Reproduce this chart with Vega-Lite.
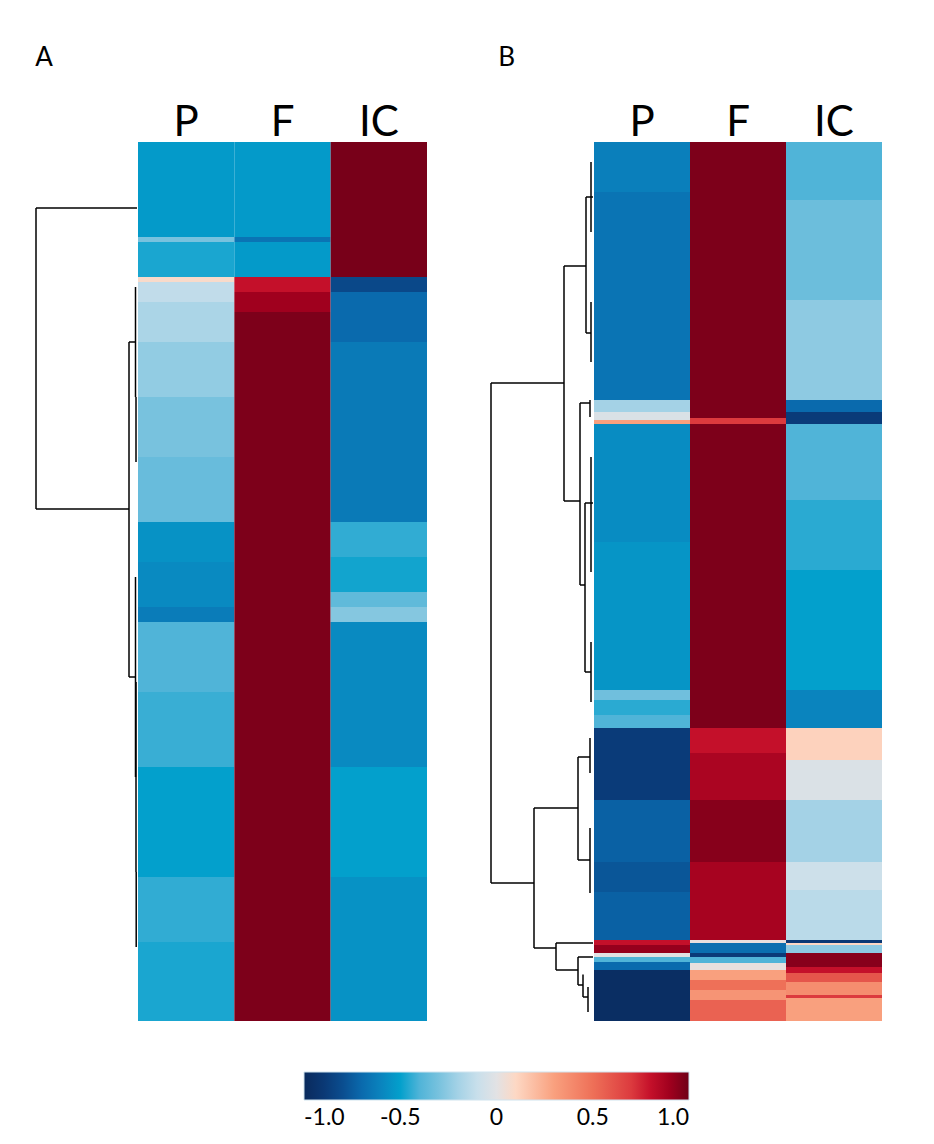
{
  "$schema": "https://vega.github.io/schema/vega-lite/v6.json",
  "background": "white",
  "padding": {"left": 35, "top": 45, "right": 10, "bottom": 10},
  "datasets": {
    "heat": [
      {"p": "A", "c": "P", "y0": 0, "y1": 19, "v": -0.52},
      {"p": "A", "c": "P", "y0": 19, "y1": 20, "v": -0.3},
      {"p": "A", "c": "P", "y0": 20, "y1": 27, "v": -0.47},
      {"p": "A", "c": "P", "y0": 27, "y1": 28, "v": 0.08},
      {"p": "A", "c": "P", "y0": 28, "y1": 32, "v": -0.12},
      {"p": "A", "c": "P", "y0": 32, "y1": 40, "v": -0.18},
      {"p": "A", "c": "P", "y0": 40, "y1": 51, "v": -0.24},
      {"p": "A", "c": "P", "y0": 51, "y1": 63, "v": -0.3},
      {"p": "A", "c": "P", "y0": 63, "y1": 76, "v": -0.34},
      {"p": "A", "c": "P", "y0": 76, "y1": 84, "v": -0.55},
      {"p": "A", "c": "P", "y0": 84, "y1": 93, "v": -0.58},
      {"p": "A", "c": "P", "y0": 93, "y1": 96, "v": -0.63},
      {"p": "A", "c": "P", "y0": 96, "y1": 110, "v": -0.4},
      {"p": "A", "c": "P", "y0": 110, "y1": 125, "v": -0.43},
      {"p": "A", "c": "P", "y0": 125, "y1": 147, "v": -0.5},
      {"p": "A", "c": "P", "y0": 147, "y1": 160, "v": -0.44},
      {"p": "A", "c": "P", "y0": 160, "y1": 175.8, "v": -0.47},
      {"p": "A", "c": "F", "y0": 0, "y1": 19, "v": -0.52},
      {"p": "A", "c": "F", "y0": 19, "y1": 20, "v": -0.66},
      {"p": "A", "c": "F", "y0": 20, "y1": 27, "v": -0.52},
      {"p": "A", "c": "F", "y0": 27, "y1": 30, "v": 0.8},
      {"p": "A", "c": "F", "y0": 30, "y1": 34, "v": 0.9},
      {"p": "A", "c": "F", "y0": 34, "y1": 175.8, "v": 0.97},
      {"p": "A", "c": "IC", "y0": 0, "y1": 27, "v": 0.98},
      {"p": "A", "c": "IC", "y0": 27, "y1": 30, "v": -0.82},
      {"p": "A", "c": "IC", "y0": 30, "y1": 40, "v": -0.7},
      {"p": "A", "c": "IC", "y0": 40, "y1": 76, "v": -0.64},
      {"p": "A", "c": "IC", "y0": 76, "y1": 83, "v": -0.44},
      {"p": "A", "c": "IC", "y0": 83, "y1": 90, "v": -0.48},
      {"p": "A", "c": "IC", "y0": 90, "y1": 93, "v": -0.36},
      {"p": "A", "c": "IC", "y0": 93, "y1": 96, "v": -0.27},
      {"p": "A", "c": "IC", "y0": 96, "y1": 125, "v": -0.58},
      {"p": "A", "c": "IC", "y0": 125, "y1": 147, "v": -0.5},
      {"p": "A", "c": "IC", "y0": 147, "y1": 175.8, "v": -0.55},
      {"p": "B", "c": "P", "y0": 0, "y1": 10, "v": -0.62},
      {"p": "B", "c": "P", "y0": 10, "y1": 51.6, "v": -0.66},
      {"p": "B", "c": "P", "y0": 51.6, "y1": 54, "v": -0.2},
      {"p": "B", "c": "P", "y0": 54, "y1": 55.6, "v": -0.03},
      {"p": "B", "c": "P", "y0": 55.6, "y1": 56.4, "v": 0.3},
      {"p": "B", "c": "P", "y0": 56.4, "y1": 80, "v": -0.57},
      {"p": "B", "c": "P", "y0": 80, "y1": 109.6, "v": -0.54},
      {"p": "B", "c": "P", "y0": 109.6, "y1": 111.6, "v": -0.32},
      {"p": "B", "c": "P", "y0": 111.6, "y1": 114.6, "v": -0.45},
      {"p": "B", "c": "P", "y0": 114.6, "y1": 117.2, "v": -0.4},
      {"p": "B", "c": "P", "y0": 117.2, "y1": 131.6, "v": -0.88},
      {"p": "B", "c": "P", "y0": 131.6, "y1": 144, "v": -0.73},
      {"p": "B", "c": "P", "y0": 144, "y1": 150, "v": -0.77},
      {"p": "B", "c": "P", "y0": 150, "y1": 159.6, "v": -0.73},
      {"p": "B", "c": "P", "y0": 159.6, "y1": 160.6, "v": 0.8},
      {"p": "B", "c": "P", "y0": 160.6, "y1": 162.2, "v": 0.92},
      {"p": "B", "c": "P", "y0": 162.2, "y1": 163, "v": 0.0},
      {"p": "B", "c": "P", "y0": 163, "y1": 164, "v": -0.4},
      {"p": "B", "c": "P", "y0": 164, "y1": 165.6, "v": -0.7},
      {"p": "B", "c": "P", "y0": 165.6, "y1": 175.8, "v": -0.97},
      {"p": "B", "c": "F", "y0": 0, "y1": 55.2, "v": 0.97},
      {"p": "B", "c": "F", "y0": 55.2, "y1": 56.4, "v": 0.7},
      {"p": "B", "c": "F", "y0": 56.4, "y1": 117.2, "v": 0.97},
      {"p": "B", "c": "F", "y0": 117.2, "y1": 122.2, "v": 0.8},
      {"p": "B", "c": "F", "y0": 122.2, "y1": 131.6, "v": 0.87},
      {"p": "B", "c": "F", "y0": 131.6, "y1": 144, "v": 0.95},
      {"p": "B", "c": "F", "y0": 144, "y1": 159.6, "v": 0.88},
      {"p": "B", "c": "F", "y0": 159.6, "y1": 160.2, "v": 0.02},
      {"p": "B", "c": "F", "y0": 160.2, "y1": 162.2, "v": -0.68},
      {"p": "B", "c": "F", "y0": 162.2, "y1": 163, "v": -0.88},
      {"p": "B", "c": "F", "y0": 163, "y1": 164.2, "v": -0.4},
      {"p": "B", "c": "F", "y0": 164.2, "y1": 165.6, "v": 0.02},
      {"p": "B", "c": "F", "y0": 165.6, "y1": 167.6, "v": 0.3},
      {"p": "B", "c": "F", "y0": 167.6, "y1": 169.6, "v": 0.5},
      {"p": "B", "c": "F", "y0": 169.6, "y1": 171.6, "v": 0.35},
      {"p": "B", "c": "F", "y0": 171.6, "y1": 175.8, "v": 0.55},
      {"p": "B", "c": "IC", "y0": 0, "y1": 11.6, "v": -0.4},
      {"p": "B", "c": "IC", "y0": 11.6, "y1": 31.6, "v": -0.33},
      {"p": "B", "c": "IC", "y0": 31.6, "y1": 51.6, "v": -0.25},
      {"p": "B", "c": "IC", "y0": 51.6, "y1": 54, "v": -0.7},
      {"p": "B", "c": "IC", "y0": 54, "y1": 56.4, "v": -0.88},
      {"p": "B", "c": "IC", "y0": 56.4, "y1": 71.6, "v": -0.4},
      {"p": "B", "c": "IC", "y0": 71.6, "y1": 85.6, "v": -0.45},
      {"p": "B", "c": "IC", "y0": 85.6, "y1": 109.6, "v": -0.5},
      {"p": "B", "c": "IC", "y0": 109.6, "y1": 117.2, "v": -0.6},
      {"p": "B", "c": "IC", "y0": 117.2, "y1": 123.6, "v": 0.12},
      {"p": "B", "c": "IC", "y0": 123.6, "y1": 131.6, "v": -0.03},
      {"p": "B", "c": "IC", "y0": 131.6, "y1": 144, "v": -0.2},
      {"p": "B", "c": "IC", "y0": 144, "y1": 149.6, "v": -0.08},
      {"p": "B", "c": "IC", "y0": 149.6, "y1": 159.6, "v": -0.14},
      {"p": "B", "c": "IC", "y0": 159.6, "y1": 160.2, "v": -0.9},
      {"p": "B", "c": "IC", "y0": 160.2, "y1": 160.6, "v": 0.1},
      {"p": "B", "c": "IC", "y0": 160.6, "y1": 162.2, "v": -0.25},
      {"p": "B", "c": "IC", "y0": 162.2, "y1": 165, "v": 0.95},
      {"p": "B", "c": "IC", "y0": 165, "y1": 166.2, "v": 0.8},
      {"p": "B", "c": "IC", "y0": 166.2, "y1": 168, "v": 0.6},
      {"p": "B", "c": "IC", "y0": 168, "y1": 170.6, "v": 0.38},
      {"p": "B", "c": "IC", "y0": 170.6, "y1": 171.2, "v": 0.7},
      {"p": "B", "c": "IC", "y0": 171.2, "y1": 175.8, "v": 0.3}
    ],
    "dendro": [
      {"p": "A", "x0": 101, "x1": 101, "y0": 13.2, "y1": 73.4},
      {"p": "A", "x0": 101, "x1": 0, "y0": 13.2, "y1": 13.2},
      {"p": "A", "x0": 101, "x1": 8, "y0": 73.4, "y1": 73.4},
      {"p": "A", "x0": 8, "x1": 8, "y0": 40, "y1": 107},
      {"p": "A", "x0": 8, "x1": 1.5, "y0": 40, "y1": 40},
      {"p": "A", "x0": 1.5, "x1": 1.5, "y0": 29, "y1": 51},
      {"p": "A", "x0": 8, "x1": 1.5, "y0": 107, "y1": 107},
      {"p": "A", "x0": 1.5, "x1": 1.5, "y0": 87, "y1": 127},
      {"p": "A", "x0": 1, "x1": 1, "y0": 51, "y1": 64},
      {"p": "A", "x0": 1, "x1": 1, "y0": 108, "y1": 146},
      {"p": "A", "x0": 0.8, "x1": 0.8, "y0": 146, "y1": 161},
      {"p": "B", "x0": 102, "x1": 102, "y0": 48.2, "y1": 148.2},
      {"p": "B", "x0": 102, "x1": 29, "y0": 48.2, "y1": 48.2},
      {"p": "B", "x0": 29, "x1": 29, "y0": 24.8, "y1": 71.8},
      {"p": "B", "x0": 29, "x1": 7, "y0": 24.8, "y1": 24.8},
      {"p": "B", "x0": 7, "x1": 7, "y0": 11, "y1": 38.2},
      {"p": "B", "x0": 7, "x1": 0, "y0": 11, "y1": 11},
      {"p": "B", "x0": 7, "x1": 2, "y0": 38.2, "y1": 38.2},
      {"p": "B", "x0": 2, "x1": 2, "y0": 32, "y1": 44},
      {"p": "B", "x0": 2, "x1": 2, "y0": 4, "y1": 18},
      {"p": "B", "x0": 29, "x1": 13, "y0": 71.8, "y1": 71.8},
      {"p": "B", "x0": 13, "x1": 13, "y0": 52.2, "y1": 88.6},
      {"p": "B", "x0": 13, "x1": 3, "y0": 52.2, "y1": 52.2},
      {"p": "B", "x0": 3, "x1": 3, "y0": 51.6, "y1": 55},
      {"p": "B", "x0": 13, "x1": 8, "y0": 88.6, "y1": 88.6},
      {"p": "B", "x0": 8, "x1": 8, "y0": 72.2, "y1": 106},
      {"p": "B", "x0": 8, "x1": 0, "y0": 72.2, "y1": 72.2},
      {"p": "B", "x0": 8, "x1": 2, "y0": 106, "y1": 106},
      {"p": "B", "x0": 2, "x1": 2, "y0": 100, "y1": 112},
      {"p": "B", "x0": 2, "x1": 2, "y0": 63, "y1": 86},
      {"p": "B", "x0": 102, "x1": 59, "y0": 148.2, "y1": 148.2},
      {"p": "B", "x0": 59, "x1": 59, "y0": 133.2, "y1": 161.2},
      {"p": "B", "x0": 59, "x1": 15, "y0": 133.2, "y1": 133.2},
      {"p": "B", "x0": 15, "x1": 15, "y0": 123, "y1": 143.6},
      {"p": "B", "x0": 15, "x1": 3, "y0": 123, "y1": 123},
      {"p": "B", "x0": 3, "x1": 3, "y0": 119.2, "y1": 126.2},
      {"p": "B", "x0": 15, "x1": 3, "y0": 143.6, "y1": 143.6},
      {"p": "B", "x0": 3, "x1": 3, "y0": 137.2, "y1": 150.2},
      {"p": "B", "x0": 59, "x1": 37, "y0": 161.2, "y1": 161.2},
      {"p": "B", "x0": 37, "x1": 37, "y0": 160.2, "y1": 165.6},
      {"p": "B", "x0": 37, "x1": 0, "y0": 160.2, "y1": 160.2},
      {"p": "B", "x0": 37, "x1": 15, "y0": 165.6, "y1": 165.6},
      {"p": "B", "x0": 15, "x1": 15, "y0": 163, "y1": 168.6},
      {"p": "B", "x0": 15, "x1": 0, "y0": 163, "y1": 163},
      {"p": "B", "x0": 15, "x1": 10, "y0": 168.6, "y1": 168.6},
      {"p": "B", "x0": 10, "x1": 10, "y0": 166.5, "y1": 171},
      {"p": "B", "x0": 10, "x1": 5, "y0": 171, "y1": 171},
      {"p": "B", "x0": 5, "x1": 5, "y0": 169, "y1": 174}
    ]
  },
  "spacing": 63,
  "resolve": {"scale": {"color": "shared", "x": "independent", "y": "independent"}, "legend": {"color": "shared"}},
  "hconcat": [
    {
      "title": {"text": "A", "anchor": "start", "fontSize": 26, "font": "Lato", "fontWeight": "normal", "offset": 30},
      "spacing": 0,
      "resolve": {"scale": {"color": "shared", "x": "independent", "y": "independent"}, "legend": {"color": "shared"}},
      "hconcat": [
        {
          "width": 101, "height": 879,
          "data": {"name": "dendro"},
          "transform": [{"filter": "datum.p == 'A'"}],
          "mark": {"type": "rule", "color": "black", "strokeWidth": 1.5},
          "encoding": {
            "x": {"field": "x0", "type": "quantitative", "scale": {"domain": [0, 101], "reverse": true, "nice": false, "zero": false}, "axis": null},
            "x2": {"field": "x1"},
            "y": {"field": "y0", "type": "quantitative", "scale": {"domain": [0, 175.8], "reverse": true, "nice": false, "zero": false}, "axis": null},
            "y2": {"field": "y1"}
          }
        },
        {
          "width": 289, "height": 879,
          "data": {"name": "heat"},
          "transform": [{"filter": "datum.p == 'A'"}],
          "mark": {"type": "rect"},
          "encoding": {
            "x": {"field": "c", "type": "nominal", "sort": ["P", "F", "IC"], "scale": {"paddingInner": 0, "paddingOuter": 0},
                  "axis": {"orient": "top", "title": null, "domain": false, "ticks": false, "labelAngle": 0, "labelFont": "Lato", "labelFontSize": 42, "labelColor": "black", "labelBaseline": "alphabetic", "labelPadding": 7}},
            "y": {"field": "y0", "type": "quantitative", "scale": {"domain": [0, 175.8], "reverse": true, "nice": false, "zero": false}, "axis": null},
            "y2": {"field": "y1"},
            "color": {"field": "v", "type": "quantitative",
                      "scale": {"type": "linear", "interpolate": "rgb",
                                "domain": [-1, -0.85, -0.7, -0.6, -0.5, -0.4, -0.3, -0.2, -0.1, 0, 0.1, 0.3, 0.5, 0.7, 0.8, 0.9, 1],
                                "range": ["#0a2a5c", "#0a3f80", "#0a6aad", "#0a84be", "#03a0cc", "#50b4d8", "#78c2de", "#a4d2e6", "#c8dfeb", "#e2e2e4", "#fdd8c4", "#f9a07e", "#ee7058", "#dc3a3e", "#c4102a", "#a0001e", "#6e0018"]},
                      "legend": {"orient": "none", "legendX": 268, "legendY": 930, "direction": "horizontal", "title": null,
                                 "gradientLength": 385, "gradientThickness": 28, "gradientStrokeColor": "#cfe3ee", "gradientStrokeWidth": 1,
                                 "values": [-1, -0.5, 0, 0.5, 1], "labelFont": "Lato", "labelFontSize": 23, "labelColor": "black", "labelAlign": "center", "labelOffset": 7,
                                 "labelExpr": "datum.value == 0 ? '0' : datum.value == -1 ? '-1.0' : datum.value == -0.5 ? '-0.5' : datum.value == 0.5 ? '0.5' : '1.0'"}}
          }
        }
      ]
    },
    {
      "title": {"text": "B", "anchor": "start", "fontSize": 26, "font": "Lato", "fontWeight": "normal", "offset": 30, "dx": 8},
      "spacing": 0,
      "resolve": {"scale": {"color": "shared", "x": "independent", "y": "independent"}, "legend": {"color": "shared"}},
      "hconcat": [
        {
          "width": 102, "height": 879,
          "data": {"name": "dendro"},
          "transform": [{"filter": "datum.p == 'B'"}],
          "mark": {"type": "rule", "color": "black", "strokeWidth": 1.5},
          "encoding": {
            "x": {"field": "x0", "type": "quantitative", "scale": {"domain": [0, 102], "reverse": true, "nice": false, "zero": false}, "axis": null},
            "x2": {"field": "x1"},
            "y": {"field": "y0", "type": "quantitative", "scale": {"domain": [0, 175.8], "reverse": true, "nice": false, "zero": false}, "axis": null},
            "y2": {"field": "y1"}
          }
        },
        {
          "width": 288, "height": 879,
          "data": {"name": "heat"},
          "transform": [{"filter": "datum.p == 'B'"}],
          "mark": {"type": "rect"},
          "encoding": {
            "x": {"field": "c", "type": "nominal", "sort": ["P", "F", "IC"], "scale": {"paddingInner": 0, "paddingOuter": 0},
                  "axis": {"orient": "top", "title": null, "domain": false, "ticks": false, "labelAngle": 0, "labelFont": "Lato", "labelFontSize": 42, "labelColor": "black", "labelBaseline": "alphabetic", "labelPadding": 7}},
            "y": {"field": "y0", "type": "quantitative", "scale": {"domain": [0, 175.8], "reverse": true, "nice": false, "zero": false}, "axis": null},
            "y2": {"field": "y1"},
            "color": {"field": "v", "type": "quantitative"}
          }
        }
      ]
    }
  ],
  "config": {
    "view": {"stroke": null},
    "legend": {"padding": 0}
  }
}
